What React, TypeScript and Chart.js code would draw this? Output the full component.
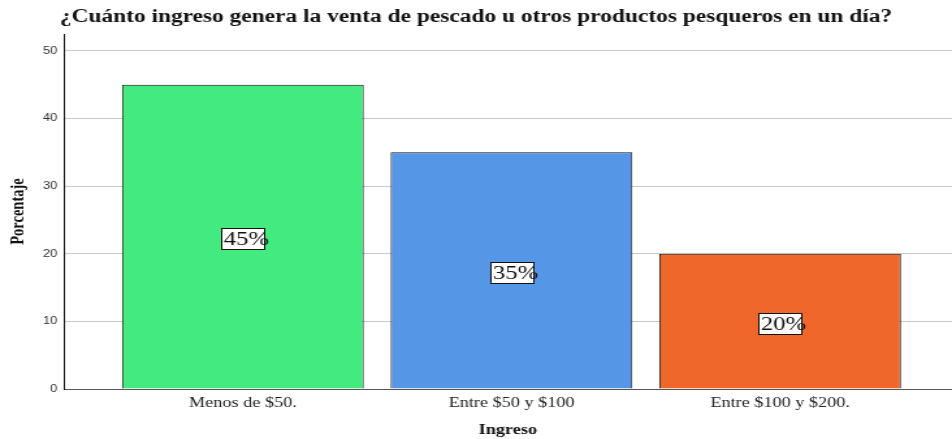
import React, { useEffect, useRef } from "react";
import { Chart, registerables } from "chart.js";

Chart.register(...registerables);

const title = "¿Cuánto ingreso genera la venta de pescado u otros productos pesqueros en un día?";
const categories = ["Menos de $50.", "Entre $50 y $100", "Entre $100 y $200."];
const values = [45, 35, 20];
const valueLabels = ["45%", "35%", "20%"];
const barColors = ["#42EA7F", "#5596E6", "#F0672B"];
const yTicks = [0, 10, 20, 30, 40, 50];
const yAxisTitle = "Porcentaje";
const xAxisTitle = "Ingreso";

const SERIF = "'Liberation Serif', 'Times New Roman', serif";
const RENDER_W = 732;
const VIEW_W = 952;
const VIEW_H = 439;

const labelPlugin = {
  id: "boxLabels",
  afterDatasetsDraw(chart: any) {
    const ctx = chart.ctx;
    const meta = chart.getDatasetMeta(0);
    const yScale = chart.scales.y;
    meta.data.forEach((bar: any, i: number) => {
      const v = values[i];
      const cy = yScale.getPixelForValue(v / 2) + 2;
      const w = 33;
      const h = 21;
      const left = Math.round(bar.x - 16.5) + 0.5;
      const top = Math.round(cy - h / 2) + 0.5;
      ctx.save();
      ctx.fillStyle = "#ffffff";
      ctx.fillRect(left, top, w, h);
      ctx.strokeStyle = "#111111";
      ctx.lineWidth = 1;
      ctx.strokeRect(left, top, w, h);
      ctx.fillStyle = "#111111";
      ctx.font = "19px " + SERIF;
      ctx.textBaseline = "middle";
      ctx.textAlign = "left";
      ctx.fillText(valueLabels[i], left + 1.5, top + h / 2 + 1);
      ctx.restore();
    });
  },
};

export default function App() {
  const ref = useRef<HTMLCanvasElement>(null);
  useEffect(() => {
    if (!ref.current) return;
    const chart = new Chart(ref.current, {
      type: "bar",
      data: {
        datasets: [
          {
            data: values.map((v, i) => ({ x: i, y: v })),
            backgroundColor: barColors,
            borderColor: "#111111",
            borderWidth: 1,
            barPercentage: 0.9,
            categoryPercentage: 1,
          },
        ],
      },
      options: {
        responsive: false,
        animation: false,
        layout: { padding: 0 },
        plugins: {
          legend: { display: false },
          tooltip: { enabled: false },
          title: {
            display: true,
            text: title,
            color: "#111111",
            font: { family: SERIF, size: 18, weight: "bold" },
            padding: { top: 7, bottom: 5.4 },
          },
        },
        scales: {
          x: {
            type: "linear",
            offset: false,
            min: -0.667,
            max: 2.64,
            afterBuildTicks: (axis: any) => {
              axis.ticks = categories.map((_, i) => ({ value: i }));
            },
            afterFit: (scale: any) => {
              scale.height = 50;
            },
            ticks: {
              callback: (v: any) => categories[v as number] ?? "",
              color: "#222222",
              font: { family: SERIF, size: 14 },
              padding: 6,
              maxRotation: 0,
              autoSkip: false,
            },
            grid: { display: false, drawTicks: false, offset: false },
            border: { display: true, color: "#555555", width: 1 },
            title: {
              display: true,
              text: xAxisTitle,
              color: "#111111",
              font: { family: SERIF, size: 14, weight: "bold" },
              padding: { top: 6, bottom: 0 },
            },
          },
          y: {
            min: 0,
            max: 52.5,
            afterBuildTicks: (axis: any) => {
              axis.ticks = yTicks.map((v) => ({ value: v }));
            },
            afterFit: (scale: any) => {
              scale.width = 49;
            },
            ticks: {
              color: "#333333",
              font: { family: "'Liberation Sans', Arial, sans-serif", size: 10 },
              padding: 5,
            },
            grid: { color: "#c8c8c8", drawTicks: false, lineWidth: 1 },
            border: { display: true, color: "#111111", width: 1 },
            title: {
              display: true,
              text: yAxisTitle,
              color: "#111111",
              font: { family: SERIF, size: 14.5, weight: "bold" },
              padding: { top: 6, bottom: 4 },
            },
          },
        },
      },
      plugins: [labelPlugin],
    });
    return () => chart.destroy();
  }, []);
  return (
    <div style={{ position: "fixed", left: 0, top: 0, width: VIEW_W, height: VIEW_H, background: "#fff" }}>
      <canvas
        ref={ref}
        width={RENDER_W}
        height={VIEW_H}
        style={{ width: VIEW_W, height: VIEW_H, display: "block" }}
      />
    </div>
  );
}
